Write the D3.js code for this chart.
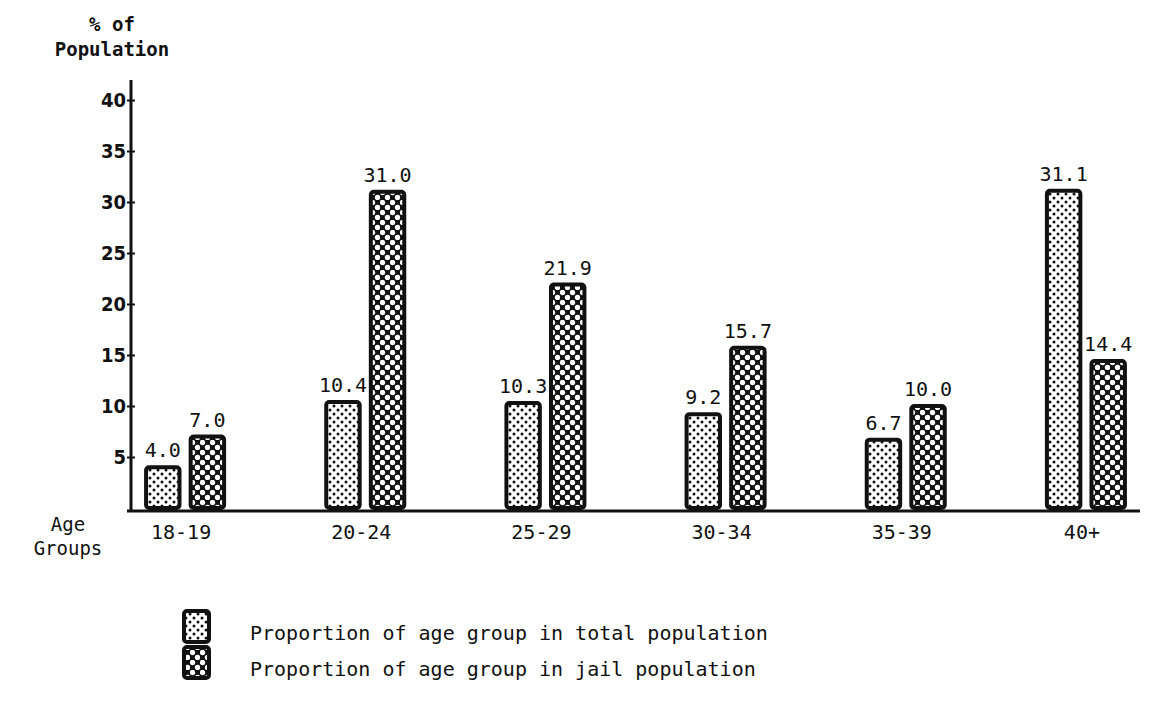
<!DOCTYPE html>
<html><head><meta charset="utf-8">
<script src="https://cdn.jsdelivr.net/npm/d3@7/dist/d3.min.js"></script>
<style>
html,body{margin:0;padding:0;background:#fff;}
svg text{font-family:"DejaVu Sans Mono","Liberation Mono",monospace;fill:#111;}
</style></head>
<body>
<svg id="chart" width="1158" height="706"></svg>
<script>
const categories = ["18-19","20-24","25-29","30-34","35-39","40+"];
const totalPop = [4.0, 10.4, 10.3, 9.2, 6.7, 31.1];
const jailPop = [7.0, 31.0, 21.9, 15.7, 10.0, 14.4];
const yTicks = [5,10,15,20,25,30,35,40];
const seriesNames = ["Proportion of age group in total population","Proportion of age group in jail population"];
const valueLabels = [["4.0","10.4","10.3","9.2","6.7","31.1"],["7.0","31.0","21.9","15.7","10.0","14.4"]];

const svg = d3.select("#chart");
const x = d3.scaleBand().domain(categories).range([95, 1176]);
const inner = d3.scaleBand().domain([0,1]).range([0, 78]).paddingInner(0.25);
const y = d3.scaleLinear().domain([0,40]).range([508, 100]);

const defs = svg.append("defs");
const pl = defs.append("pattern").attr("id","dots").attr("patternUnits","userSpaceOnUse").attr("width",8).attr("height",8);
pl.append("rect").attr("width",8).attr("height",8).attr("fill","#fff");
pl.append("circle").attr("cx",2).attr("cy",2).attr("r",1.5).attr("fill","#111");
pl.append("circle").attr("cx",6).attr("cy",6).attr("r",1.5).attr("fill","#111");
const pd = defs.append("pattern").attr("id","holes").attr("patternUnits","userSpaceOnUse").attr("width",10).attr("height",10);
pd.append("rect").attr("width",10).attr("height",10).attr("fill","#111");
pd.append("circle").attr("cx",2.5).attr("cy",2.5).attr("r",2.7).attr("fill","#fff");
pd.append("circle").attr("cx",7.5).attr("cy",7.5).attr("r",2.7).attr("fill","#fff");

const fills = ["url(#dots)","url(#holes)"];
const series = [totalPop, jailPop];
const bx = (d, s) => x(d) + x.bandwidth()/2 - 39 + inner(s);

// bars
series.forEach((vals, s) => {
  svg.append("g").selectAll("rect").data(categories).join("rect")
    .attr("x", d => bx(d, s))
    .attr("y", (d,i) => y(vals[i]))
    .attr("width", inner.bandwidth())
    .attr("height", (d,i) => y(0) - y(vals[i]))
    .attr("rx", 3)
    .attr("fill", fills[s]).attr("stroke","#111").attr("stroke-width",4);
  svg.append("g").selectAll("text").data(categories).join("text")
    .attr("x", d => bx(d, s) + inner.bandwidth()/2)
    .attr("y", (d,i) => y(vals[i]) - 10)
    .attr("text-anchor","middle").attr("font-size",20)
    .text((d,i) => valueLabels[s][i]);
});

// y axis
const yAxis = d3.axisLeft(y).tickValues(yTicks).tickSize(4).tickFormat(d3.format("d"));
const gy = svg.append("g").attr("transform","translate(131,0)").call(yAxis);
gy.select(".domain").remove();
gy.selectAll(".tick line").attr("x1",-4).attr("x2",4).attr("stroke","#111").attr("stroke-width",2);
gy.selectAll(".tick text").attr("font-size",20).attr("font-weight","bold").attr("x",-5)
  .style("font-family","'DejaVu Sans Condensed','DejaVu Sans',sans-serif");
svg.append("line").attr("x1",131).attr("x2",131).attr("y1",80).attr("y2",y(0)+3).attr("stroke","#111").attr("stroke-width",3);

// x axis
const xAxis = d3.axisBottom(x).tickSize(0).tickPadding(14);
const gx = svg.append("g").attr("transform",`translate(0,${y(0)+3})`).call(xAxis);
gx.select(".domain").remove();
gx.selectAll(".tick text").attr("font-size",20).attr("dx",-4);
svg.append("line").attr("x1",127).attr("x2",1140).attr("y1",y(0)+3).attr("y2",y(0)+3).attr("stroke","#111").attr("stroke-width",3);

// axis titles
svg.append("text").attr("x",112).attr("y",31).attr("text-anchor","middle").attr("font-size",19).attr("font-weight","bold").text("% of");
svg.append("text").attr("x",112).attr("y",56).attr("text-anchor","middle").attr("font-size",19).attr("font-weight","bold").text("Population");
svg.append("text").attr("x",68).attr("y",531).attr("text-anchor","middle").attr("font-size",19).text("Age");
svg.append("text").attr("x",68).attr("y",555).attr("text-anchor","middle").attr("font-size",19).text("Groups");

// legend
const lg = svg.append("g");
seriesNames.forEach((n, s) => {
  lg.append("rect").attr("x",184).attr("y",611 + s*36).attr("width",25).attr("height",31).attr("rx",3)
    .attr("fill",fills[s]).attr("stroke","#111").attr("stroke-width",4);
  lg.append("text").attr("x",250).attr("y",640 + s*36).attr("font-size",20).text(n);
});
</script>
</body></html>
